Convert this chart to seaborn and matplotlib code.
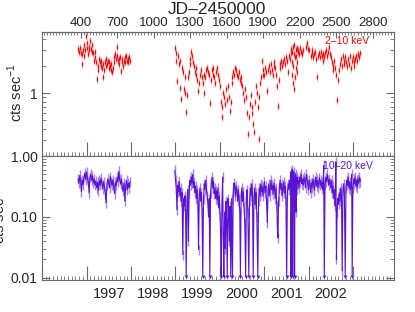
"""Two-band X-ray light curve: 2-10 keV (top) and 10-20 keV (bottom)."""

import matplotlib

matplotlib.use("Agg")
import matplotlib.pyplot as plt
import matplotlib.ticker as mticker
import pandas as pd
import seaborn as sns

# ---------------------------------------------------------------- data
# times are JD - 2450000, rates in cts/s
red_jd_1 = [380, 388, 395, 402, 408, 414, 420, 426, 432, 438,
            443, 449, 455, 461, 467, 473, 479, 485, 491, 497,
            503, 509, 515, 521, 527, 534, 540, 546, 552, 558,
            564, 570, 576, 582, 588, 594, 600, 606, 612, 618,
            624, 630, 636, 642, 648, 654, 660, 666, 672, 678,
            684, 690, 696, 702, 708, 714, 720, 726, 732, 738,
            744, 750, 756, 762, 768, 774, 780, 786, 792, 798, 804]
red_rate_1 = [3.1, 2.9, 3.2, 2.8, 2.1, 2.7, 3.0, 2.6, 3.4, 3.0,
              4.3, 3.2, 3.6, 2.7, 3.3, 3.0, 3.8, 3.1, 2.9, 3.4,
              2.8, 2.3, 2.9, 2.5, 2.2, 1.45, 2.0, 1.8, 2.4, 2.2,
              2.0, 2.3, 1.9, 2.1, 1.5, 1.8, 2.2, 2.0, 2.4, 2.1,
              2.3, 1.9, 2.2, 2.0, 1.8, 2.1, 1.7, 1.9, 2.2, 2.5,
              2.7, 2.4, 3.3, 2.6, 2.3, 2.4, 2.1, 2.5, 1.75, 2.2,
              2.4, 2.0, 2.3, 2.5, 2.2, 2.6, 2.3, 2.4, 2.2, 2.5, 2.3]

red_jd_2 = [1175, 1182, 1188, 1195, 1200, 1207, 1213, 1218, 1225, 1232,
            1240, 1248, 1255, 1262, 1268, 1275, 1282, 1288, 1295, 1302,
            1308, 1315, 1322, 1330, 1337, 1345, 1352, 1358, 1365, 1372,
            1380, 1388, 1395, 1402, 1410, 1418, 1425, 1432, 1440, 1447,
            1455, 1462, 1470, 1478, 1485, 1492, 1500, 1507, 1515, 1522,
            1530, 1537, 1545, 1552, 1558, 1565, 1572, 1580, 1587, 1595,
            1602, 1610, 1617, 1625, 1632, 1640, 1648, 1655, 1662, 1670,
            1677, 1685, 1692, 1700, 1707, 1715, 1722, 1730, 1738, 1745,
            1752, 1760, 1767, 1775, 1782, 1790, 1797, 1805, 1812, 1818,
            1825, 1832, 1840, 1847, 1855, 1862, 1868, 1875, 1882, 1888,
            1895, 1900, 1907, 1915, 1922, 1933, 1940, 1947, 1955, 1962,
            1970, 1977, 1985, 1992, 2000, 2007, 2014, 2021, 2028, 2035,
            2042, 2050, 2057, 2065, 2072, 2080, 2087, 2095, 2102, 2110,
            2117, 2125, 2130, 2133, 2136, 2139, 2142, 2145, 2148, 2151,
            2154, 2157, 2160, 2163, 2166, 2169, 2172, 2175, 2178, 2181,
            2184, 2190, 2197, 2204, 2210, 2218, 2225, 2252, 2260, 2268,
            2275, 2290, 2297, 2305, 2312, 2320, 2328, 2335, 2342, 2350,
            2357, 2365, 2372, 2380, 2388, 2395, 2402, 2410, 2418, 2425,
            2432, 2440, 2447, 2455, 2462, 2470, 2477, 2485, 2492, 2500,
            2507, 2514, 2522, 2530, 2537, 2545, 2552, 2560, 2567, 2575,
            2582, 2590, 2597, 2605, 2612, 2620, 2627, 2635, 2642, 2650,
            2657, 2665, 2672, 2680, 2688, 2695]
red_rate_2 = [3.2, 2.8, 2.3, 1.35, 2.6, 2.1, 1.15, 2.3, 0.87, 1.9,
              1.7, 1.1, 1.5, 1.0, 0.62, 0.95, 1.5, 1.7, 2.1, 2.4,
              2.9, 2.6, 2.2, 2.0, 1.7, 1.9, 1.6, 1.4, 1.05, 1.3,
              1.6, 1.8, 1.5, 1.3, 1.6, 1.0, 1.5, 1.8, 1.9, 1.7,
              1.6, 0.78, 1.4, 1.8, 1.6, 1.9, 1.5, 1.3, 1.7, 1.9,
              1.6, 1.4, 1.2, 0.8, 0.54, 0.7, 1.0, 0.9, 0.75, 1.1,
              0.85, 1.2, 0.9, 0.63, 0.8, 1.3, 1.5, 1.7, 1.6, 1.9,
              1.8, 1.6, 1.5, 1.7, 1.4, 1.5, 1.3, 1.2, 1.0, 0.85,
              1.1, 0.9, 0.6, 0.35, 0.55, 0.75, 0.95, 0.6, 0.7, 0.45,
              0.37, 0.8, 1.2, 1.0, 0.7, 0.31, 0.9, 1.3, 1.5, 2.3,
              1.6, 1.8, 1.6, 1.9, 1.7, 1.05, 1.8, 2.0, 1.7, 2.1,
              1.8, 1.6, 2.0, 2.2, 1.9, 1.6, 1.2, 0.72, 1.4, 1.9,
              2.1, 2.3, 2.0, 2.2, 2.4, 2.1, 2.5, 2.3, 1.7, 2.6,
              2.4, 2.8, 3.1, 2.2, 1.6, 2.9, 1.3, 3.3, 2.0, 1.1,
              2.7, 3.4, 1.5, 2.5, 3.0, 1.9, 2.6, 3.2, 2.2, 1.7,
              2.9, 3.0, 2.7, 3.2, 2.9, 2.7, 3.0, 3.3, 3.6, 3.1,
              3.0, 2.6, 3.0, 2.8, 2.5, 2.7, 2.9, 2.4, 1.5, 2.6,
              2.8, 2.5, 2.9, 2.6, 2.3, 2.7, 2.5, 2.8, 3.0, 2.6,
              2.9, 3.3, 2.7, 2.5, 2.2, 2.0, 1.8, 2.3, 1.9, 1.6,
              0.83, 1.4, 1.8, 2.1, 2.4, 2.0, 2.6, 2.3, 2.1, 2.5,
              2.2, 2.0, 2.4, 2.1, 2.6, 1.9, 2.3, 2.5, 2.2, 2.0,
              2.4, 2.6, 2.3, 2.7, 2.5, 2.8]

pur_jd_1 = [380, 387, 394, 401, 407, 414, 421, 428, 435, 442,
            449, 456, 463, 470, 477, 484, 491, 498, 505, 512,
            519, 526, 533, 540, 547, 554, 561, 568, 575, 582,
            589, 596, 603, 610, 617, 624, 631, 638, 645, 652,
            659, 666, 673, 680, 687, 694, 701, 708, 715, 722,
            729, 736, 743, 750, 757, 764, 771, 778, 785, 792, 799, 806]
pur_rate_1 = [0.42, 0.36, 0.48, 0.38, 0.26, 0.40, 0.34, 0.45, 0.52, 0.41,
              0.55, 0.43, 0.38, 0.25, 0.45, 0.50, 0.40, 0.47, 0.36, 0.42,
              0.33, 0.39, 0.30, 0.37, 0.27, 0.40, 0.33, 0.44, 0.35, 0.29,
              0.38, 0.32, 0.25, 0.17, 0.34, 0.42, 0.36, 0.30, 0.46, 0.38,
              0.33, 0.41, 0.30, 0.24, 0.37, 0.33, 0.45, 0.38, 0.56, 0.40,
              0.35, 0.42, 0.31, 0.27, 0.36, 0.18, 0.33, 0.40, 0.28, 0.36,
              0.30, 0.38]

pur_jd_2 = [1175, 1180, 1186, 1192, 1198, 1204, 1210, 1216, 1222, 1228,
            1234, 1240, 1246, 1252, 1258, 1263, 1274, 1280, 1286, 1292,
            1298, 1304, 1310, 1316, 1322, 1328, 1334, 1340, 1346, 1352,
            1358, 1364, 1369, 1375, 1381, 1387, 1393, 1398, 1410, 1416,
            1422, 1428, 1434, 1440, 1446, 1452, 1457, 1468, 1474, 1480,
            1486, 1492, 1498, 1504, 1510, 1516, 1522, 1528, 1534, 1540,
            1546, 1550, 1561, 1567, 1572, 1583, 1589, 1594, 1600, 1611,
            1617, 1622, 1628, 1641, 1654, 1660, 1666, 1672, 1678, 1684,
            1690, 1696, 1702, 1708, 1719, 1725, 1731, 1737, 1743, 1749,
            1762, 1768, 1774, 1788, 1794, 1800, 1806, 1812, 1824, 1830,
            1836, 1842, 1848, 1862, 1868, 1874, 1880, 1886, 1892, 1898,
            1904, 1910, 1916, 1922, 1928, 1934, 1940, 1946, 1952, 1958,
            1964, 1970, 1976, 1982, 1988, 1994, 2000, 2006, 2012, 2017,
            2021, 2027, 2033, 2039, 2045, 2051, 2057, 2063, 2069, 2075,
            2081, 2087, 2099, 2105, 2111, 2117, 2123, 2127, 2132, 2135,
            2138, 2141, 2146, 2149, 2152, 2155, 2161, 2164, 2167, 2170,
            2173, 2176, 2179, 2182, 2188, 2194, 2200, 2206, 2212, 2218,
            2224, 2230, 2236, 2242, 2248, 2254, 2260, 2266, 2272, 2278,
            2284, 2290, 2296, 2302, 2308, 2314, 2320, 2326, 2332, 2338,
            2344, 2350, 2356, 2362, 2368, 2374, 2380, 2386, 2392, 2397,
            2408, 2414, 2420, 2426, 2432, 2438, 2444, 2450, 2456, 2462,
            2468, 2474, 2480, 2486, 2492, 2497, 2502, 2507, 2513, 2519,
            2525, 2531, 2537, 2543, 2549, 2555, 2561, 2567, 2580, 2586,
            2592, 2598, 2604, 2610, 2616, 2622, 2627, 2637, 2643, 2649,
            2655, 2661, 2667, 2673, 2679, 2685, 2691, 2697]
pur_rate_2 = [0.58, 0.40, 0.30, 0.13, 0.33, 0.26, 0.38, 0.22, 0.30, 0.18,
              0.25, 0.024, 0.20, 0.15, 0.22, 0.11, 0.18, 0.28, 0.04, 0.25,
              0.40, 0.33, 0.45, 0.36, 0.50, 0.30, 0.38, 0.25, 0.32, 0.20,
              0.28, 0.15, 0.029, 0.22, 0.30, 0.18, 0.25, 0.12, 0.20, 0.35,
              0.28, 0.40, 0.30, 0.22, 0.16, 0.10, 0.20, 0.25, 0.35, 0.45,
              0.30, 0.38, 0.24, 0.30, 0.20, 0.27, 0.19, 0.30, 0.14, 0.22,
              0.10, 0.06, 0.15, 0.45, 0.05, 0.12, 0.03, 0.18, 0.08, 0.20,
              0.12, 0.04, 0.15, 0.20, 0.25, 0.36, 0.30, 0.22, 0.32, 0.26,
              0.18, 0.28, 0.20, 0.12, 0.22, 0.30, 0.18, 0.26, 0.14, 0.08,
              0.20, 0.28, 0.12, 0.18, 0.30, 0.22, 0.35, 0.25, 0.20, 0.30,
              0.16, 0.25, 0.10, 0.18, 0.30, 0.22, 0.35, 0.26, 0.32, 0.22,
              0.30, 0.38, 0.25, 0.32, 0.17, 0.08, 0.27, 0.35, 0.22, 0.30,
              0.40, 0.28, 0.33, 0.24, 0.36, 0.28, 0.20, 0.30, 0.15, 0.07,
              0.045, 0.18, 0.30, 0.40, 0.28, 0.35, 0.22, 0.30, 0.38, 0.25,
              0.32, 0.18, 0.25, 0.35, 0.28, 0.40, 0.30, 0.55, 0.45, 0.30,
              0.60, 0.20, 0.50, 0.35, 0.55, 0.25, 0.45, 0.30, 0.50, 0.12,
              0.40, 0.28, 0.45, 0.35, 0.40, 0.30, 0.45, 0.38, 0.50, 0.35,
              0.42, 0.33, 0.45, 0.38, 0.30, 0.50, 0.42, 0.35, 0.28, 0.40,
              0.33, 0.25, 0.36, 0.30, 0.42, 0.35, 0.27, 0.38, 0.45, 0.32,
              0.40, 0.30, 0.36, 0.44, 0.33, 0.40, 0.30, 0.37, 0.28, 0.70,
              0.35, 0.45, 0.38, 0.50, 0.40, 0.33, 0.42, 0.36, 0.30, 0.40,
              0.25, 0.32, 0.20, 0.28, 0.15, 0.80, 0.02, 0.12, 0.20, 0.16,
              0.25, 0.18, 0.30, 0.22, 0.013, 0.28, 0.35, 0.25, 0.30, 0.40,
              0.33, 0.45, 0.30, 0.38, 0.28, 0.35, 0.50, 0.30, 0.42, 0.35,
              0.45, 0.32, 0.40, 0.30, 0.42, 0.36, 0.45, 0.38]

# 10-20 keV upper limits (drawn as arrows at the floor of the panel)
ul_jd = [1268, 1404, 1462, 1555, 1577, 1605, 1634, 1648, 1713, 1756,
         1782, 1818, 1856, 2093, 2129, 2143, 2158, 2402, 2574, 2631]
ul_rate = 0.0105

years = [1997, 1998, 1999, 2000, 2001, 2002]
jd_ticks = list(range(400, 2801, 300))

RED = "#ff0000"
RED_LIGHT = "#ffa0a0"
PURPLE = "#5a12d4"
PURPLE_LIGHT = "#a884f0"
FRAME = "#6a6a6a"


def to_jd(stamps):
    return [t.to_julian_date() - 2450000 for t in stamps]


def main() -> None:
    sns.set_theme(style="ticks")
    plt.rcParams["font.family"] = ["Liberation Sans", "DejaVu Sans"]
    plt.rcParams["mathtext.fontset"] = "custom"
    plt.rcParams["mathtext.rm"] = "Liberation Sans"
    plt.rcParams["axes.edgecolor"] = FRAME
    plt.rcParams["axes.linewidth"] = 0.8

    red = pd.concat([
        pd.DataFrame({"jd": red_jd_1, "rate": red_rate_1, "seg": 1}),
        pd.DataFrame({"jd": red_jd_2, "rate": red_rate_2, "seg": 2}),
    ])
    ul = pd.DataFrame({"jd": ul_jd, "rate": ul_rate})
    pur = pd.concat([
        pd.DataFrame({"jd": pur_jd_1, "rate": pur_rate_1, "seg": 1}),
        pd.DataFrame({"jd": pur_jd_2, "rate": pur_rate_2, "seg": 2}),
        ul.assign(seg=2),
    ]).sort_values(["seg", "jd"])
    det = pur[pur["rate"] > ul_rate]

    year_edges = to_jd(pd.Timestamp(year=y, month=1, day=1)
                       for y in range(1996, 2004))
    year_mid = to_jd(pd.Timestamp(year=y, month=7, day=2) for y in years)
    months = to_jd(pd.date_range("1996-01-01", "2003-12-01", freq="MS"))

    fig = plt.figure(figsize=(4.15, 3.12), dpi=100)
    ax1 = fig.add_axes([42 / 415, 0.5, 352 / 415, 124 / 312])
    ax2 = fig.add_axes([42 / 415, 32 / 312, 352 / 415, 124 / 312])

    # top panel: 2-10 keV, points shown as short error-bar dashes
    sns.scatterplot(data=red, x="jd", y="rate", marker="|", s=30,
                    color=RED_LIGHT, linewidth=0.8, ax=ax1, legend=False)
    sns.scatterplot(data=red, x="jd", y="rate", marker="|", s=10,
                    color=RED, linewidth=0.9, ax=ax1, legend=False)

    # bottom panel: 10-20 keV
    sns.scatterplot(data=det, x="jd", y="rate", marker="|", s=45,
                    color=PURPLE_LIGHT, linewidth=1.0, ax=ax2, legend=False)
    sns.lineplot(data=pur, x="jd", y="rate", units="seg", estimator=None,
                 sort=False, color=PURPLE, lw=0.8, ax=ax2)
    sns.scatterplot(data=ul, x="jd", y="rate", marker="v", s=10,
                    color=PURPLE, linewidth=0.3, ax=ax2, legend=False)

    for ax in (ax1, ax2):
        ax.set_yscale("log")
        ax.set_xlim(278, 2805)
        ax.set_xlabel("")
        ax.set_ylabel("")
        ax.set_xticks(year_edges, [""] * len(year_edges))
        ax.set_xticks(months, minor=True)
        ax.tick_params(axis="x", which="major", direction="in", length=10,
                       width=0.8, color=FRAME, top=False, bottom=True)
        ax.tick_params(axis="x", which="minor", direction="in", length=3,
                       width=0.6, color=FRAME, top=False, bottom=True)
        ax.yaxis.set_minor_locator(
            mticker.LogLocator(base=10, subs=range(2, 10), numticks=20))
        ax.yaxis.set_minor_formatter(mticker.NullFormatter())
        ax.tick_params(axis="y", which="major", direction="in", length=6,
                       width=0.8, color=FRAME, left=True, right=True,
                       labelsize=10, pad=3)
        ax.tick_params(axis="y", which="minor", direction="in", length=3,
                       width=0.6, color=FRAME, left=True, right=True)

    ax1.set_ylim(0.2, 4.8)
    ax1.set_yticks([1], ["1"])
    ax2.set_ylim(0.0092, 1.0)
    ax2.set_yticks([0.01, 0.1, 1.0], ["0.01", "0.10", "1.00"])

    top = ax1.secondary_xaxis("top")
    top.set_xticks(jd_ticks, [str(t) for t in jd_ticks])
    top.xaxis.set_minor_locator(mticker.MultipleLocator(25))
    top.tick_params(which="major", direction="in", length=4, width=0.8,
                    color=FRAME, labelsize=9.5, pad=2)
    top.tick_params(which="minor", direction="in", length=2, width=0.6,
                    color=FRAME)

    bot = ax2.secondary_xaxis("bottom")
    bot.spines["bottom"].set_visible(False)
    bot.set_xticks(year_mid, [str(y) for y in years])
    bot.xaxis.set_minor_locator(mticker.NullLocator())
    bot.tick_params(length=0, labelsize=10.5, pad=5)

    fig.text(217 / 415, 1 - 9.5 / 312, "JD\u20132450000", ha="center",
             va="center", fontsize=12.5)
    fig.text(15 / 415, 1 - 93 / 312, "cts sec$^{-1}$", rotation=90,
             ha="center", va="center", fontsize=10.5)
    fig.text(-2 / 415, 1 - 215 / 312, "cts sec$^{-1}$", rotation=90,
             ha="center", va="center", fontsize=10.5)
    fig.text(325 / 415, 1 - 41.5 / 312, "2\u201310 keV", color=RED,
             ha="left", va="center", fontsize=7.5)
    fig.text(323 / 415, 1 - 166 / 312, "10\u201320 keV", color=PURPLE,
             ha="left", va="center", fontsize=7.5)

    fig.savefig("out.png", dpi=100, facecolor="white")
    plt.close(fig)


if __name__ == "__main__":
    main()
